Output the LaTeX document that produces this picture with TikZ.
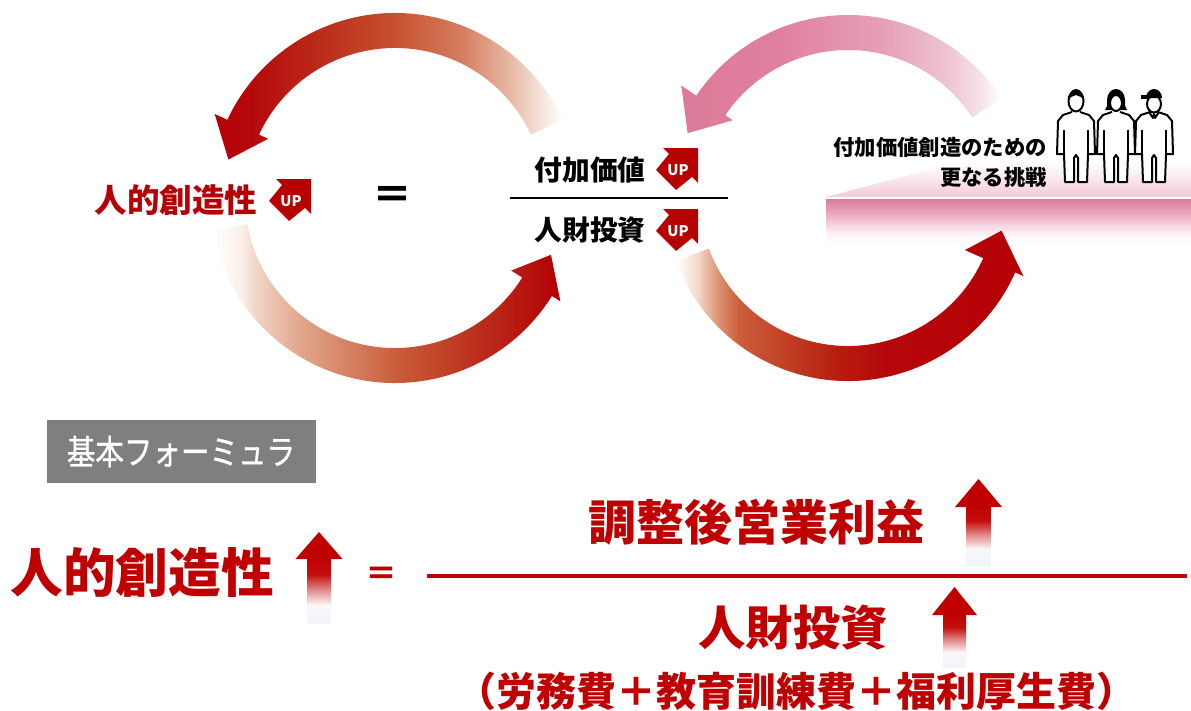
\documentclass[tikz,border=0pt]{standalone}
\usepackage{fontspec}
\newfontfamily\jp{Noto Sans CJK JP}
\newfontfamily\jpmed{Noto Sans CJK JP}[FakeBold=1]
\newcommand\jsize[1]{\fontsize{#1}{#1}\selectfont}

% palette
\definecolor{dred}{HTML}{B50005}
\definecolor{fred}{HTML}{C00000}
\definecolor{iconred}{HTML}{B70000}
\definecolor{boxgray}{HTML}{7F7F7F}
\definecolor{platTop}{HTML}{F3CBD7}
% left upper ring
\definecolor{lt0}{HTML}{B30008}\definecolor{lt1}{HTML}{B5090A}\definecolor{lt2}{HTML}{BC2A1A}
\definecolor{lt3}{HTML}{C64E2E}\definecolor{lt4}{HTML}{D47A5C}\definecolor{lt5}{HTML}{E7B9A5}
\definecolor{lt6}{HTML}{F6E4DC}
% left lower ring
\definecolor{lb1}{HTML}{FBF0EA}\definecolor{lb2}{HTML}{F0D2C2}\definecolor{lb3}{HTML}{E2A78C}
\definecolor{lb4}{HTML}{D58163}\definecolor{lb5}{HTML}{C95C39}\definecolor{lb6}{HTML}{BF3A22}
\definecolor{lb7}{HTML}{B71810}
% right upper ring (pink)
\definecolor{rt0}{HTML}{DD7A99}\definecolor{rt1}{HTML}{DF809E}\definecolor{rt2}{HTML}{E6A0B6}
\definecolor{rt3}{HTML}{EFC6D3}\definecolor{rt4}{HTML}{F7E4EA}
% right lower ring
\definecolor{rb1}{HTML}{F4DCCD}\definecolor{rb2}{HTML}{DC9474}\definecolor{rb3}{HTML}{CB5E3C}
\definecolor{rb4}{HTML}{C24428}\definecolor{rb5}{HTML}{B8200F}\definecolor{rb6}{HTML}{B5070A}
% platform front face
\definecolor{pf1}{HTML}{FBEEF2}\definecolor{pf2}{HTML}{F5D8E1}\definecolor{pf3}{HTML}{EAA9BD}
\definecolor{pf4}{HTML}{E088A3}\definecolor{pf5}{HTML}{DC7A98}
% upward arrow shafts
\definecolor{up0}{HTML}{F2F4FA}\definecolor{up1}{HTML}{F6F7FB}\definecolor{up2}{HTML}{FDF6F6}
\definecolor{up3}{HTML}{E08888}\definecolor{up4}{HTML}{C41010}

\pgfdeclarehorizontalshading{shLT}{100bp}{color(0bp)=(lt0); color(25bp)=(lt0); color(30bp)=(lt1); color(40bp)=(lt2); color(50bp)=(lt3); color(60bp)=(lt4); color(67.5bp)=(lt5); color(72bp)=(lt6); color(75bp)=(white); color(100bp)=(white)}
\pgfdeclarehorizontalshading{shLB}{100bp}{color(0bp)=(white); color(25bp)=(white); color(29bp)=(lb1); color(31.5bp)=(lb2); color(37.5bp)=(lb3); color(44.5bp)=(lb4); color(51.5bp)=(lb5); color(60bp)=(lb6); color(69bp)=(lb7); color(75bp)=(dred); color(100bp)=(dred)}
\pgfdeclarehorizontalshading{shRT}{100bp}{color(0bp)=(rt0); color(25bp)=(rt0); color(40bp)=(rt1); color(56.5bp)=(rt2); color(67bp)=(rt3); color(72bp)=(rt4); color(75bp)=(white); color(100bp)=(white)}
\pgfdeclarehorizontalshading{shRB}{100bp}{color(0bp)=(white); color(25bp)=(white); color(28bp)=(rb1); color(31bp)=(rb2); color(34bp)=(rb3); color(40bp)=(rb4); color(47.5bp)=(rb5); color(55bp)=(rb6); color(75bp)=(dred); color(100bp)=(dred)}
\pgfdeclareverticalshading{shFront}{100bp}{color(0bp)=(white); color(25bp)=(white); color(37bp)=(pf1); color(45bp)=(pf2); color(58bp)=(pf3); color(70bp)=(pf4); color(75bp)=(pf5); color(100bp)=(pf5)}
\pgfdeclareverticalshading{shUp}{100bp}{color(0bp)=(up0); color(25bp)=(up0); color(36bp)=(up1); color(39bp)=(up2); color(51bp)=(up3); color(62.5bp)=(up4); color(75bp)=(fred); color(100bp)=(fred)}

% ring segment with arrow head:
% #1 shading, #2 start angle, #3 end angle, #4 tip angle,
% #5 inner r, #6 outer r, #7 inner barb r, #8 outer barb r, #9 tip r
\newcommand\ringarrow[9]{%
  \shade[shading=#1] (#2:#6) arc[start angle=#2, end angle=#3, radius=#6]
    -- (#3:#8) -- (#4:#9) -- (#3:#7) -- (#3:#5)
    arc[start angle=#3, end angle=#2, radius=#5] -- cycle;}

% small "UP" badge, #2/#3 = upper right corner
\newcommand\upicon[3]{%
  \begin{scope}[shift={(#2,#3)}]
    \fill[iconred] (0,0) -- (-35,0) -- (-29,6) -- (-42,22) -- (-22,42) -- (-6,29) -- (0,35) -- cycle;
    \node[uptext] (#1) at (-20,22) {UP};
  \end{scope}}

% big upward arrow: tip x, tip y, head base y, head half width, shaft half width, bottom y
\newcommand\bigup[6]{%
  \shade[shading=shUp] (#1-#5,#3-0.5) rectangle (#1+#5,#6);
  \fill[fred] (#1,#2) -- (#1+#4,#3) -- (#1-#4,#3) -- cycle;}

% standing pictogram body
\newcommand\figbody{%
  \draw[figline, fill=white] (-4,112) -- (-13,115) -- (-18,121) -- (-19,154) -- (-12,154)
    -- (-11,182) -- (-2,182) -- (-2,158) -- (0,155) -- (2,158)
    -- (2,182) -- (11,182) -- (12,154) -- (19,154) -- (18,121)
    -- (13,115) -- (4,112);
  \draw[figline] (-12,154) -- (-12,130);
  \draw[figline] (12,154) -- (12,130);}

\tikzset{
  figline/.style={line width=1.5pt, black, line join=round},
  uptext/.style={inner sep=0pt, text=white, font={\jp\bfseries\jsize{11}}},
  toplabel/.style={inner sep=0pt, font={\jp\bfseries\jsize{20.8}}},
  bottomlabel/.style={inner sep=0pt, text=fred, font={\jp\bfseries\jsize{35.5}}},
}

\begin{document}
\begin{tikzpicture}[x=0.75pt, y=-0.75pt, line join=round]
\useasboundingbox (0,0) rectangle (1191,710);
\fill[white] (0,0) rectangle (1191,710);

% stage under the people
\shade[top color=white, bottom color=platTop] (826,197) -- (1191,197) -- (1191,163) -- (955,163) -- cycle;
\shade[shading=shFront] (826,199) rectangle (1191,243);

% the two loops
\begin{scope}[shift={(395,198)}]
  \ringarrow{shLT}{-25}{-155}{-167}{150}{185}{140}{199}{171}
  \ringarrow{shLB}{170}{32}{20}{150}{185}{137}{195}{166}
\end{scope}
\begin{scope}[shift={(848,198)}]
  \ringarrow{shRT}{-33}{-146}{-158}{148}{183}{139}{201}{173}
  \ringarrow{shRB}{160}{24}{12}{148}{183}{128}{192}{157}
\end{scope}

% upper formula
\node[inner sep=0pt, text=dred, font={\jp\bfseries\jsize{24.4}}] (hcTop) at (176,200) {人的創造性};
\upicon{upA}{311}{179}
\node[inner sep=0pt, font={\jp\bfseries\jsize{30}}] (eqTop) at (392,198) {＝};
\node[toplabel] (avTop) at (590,170) {付加価値};
\node[toplabel] (hiTop) at (590,230) {人財投資};
\coordinate (barL) at (510,198);
\coordinate (barR) at (728,198);
\draw[line width=1.5pt] (barL) -- (barR);
\upicon{upB}{698}{148}
\upicon{upC}{698}{209}

\node[inner sep=0pt, anchor=east, align=right, font={\jp\bfseries\fontsize{16}{22.5}\selectfont}] (chal) at (1047,162) {付加価値創造のための\\更なる挑戦};

% three people
\begin{scope}[shift={(1076,0)}]
  \figbody
  \draw[figline, fill=white] (0,101) ellipse[x radius=7.5, y radius=10.5];
  \fill (-7.5,100) arc[start angle=180, end angle=360, x radius=7.5, y radius=11] -- (5,97) -- (0,95) -- (-5,97) -- cycle;
\end{scope}
\begin{scope}[shift={(1116,0)}]
  \figbody
  \fill (-11,110) -- (-9,106) -- (-9,100) arc[start angle=180, end angle=360, x radius=9, y radius=11] -- (9,106) -- (11,110) -- cycle;
  \draw[figline, fill=white] (0,103) ellipse[x radius=6, y radius=8];
\end{scope}
\begin{scope}[shift={(1154,0)}]
  \figbody
  \draw[figline, fill=white] (0,104) ellipse[x radius=7, y radius=8.5];
  \fill (-8,98) arc[start angle=180, end angle=360, x radius=8, y radius=9] -- cycle;
  \fill (-13,95) rectangle (-4,98.5);
  \draw[figline] (-5,112) -- (-1,118) -- (0,114) -- (1,118) -- (5,112);
\end{scope}

% basic formula
\node[fill=boxgray, text=white, minimum width=201.75pt, minimum height=47.25pt, inner sep=0pt,
      font={\jpmed\jsize{21.4}}] (boxLbl) at (181,451.5) {\scalebox{1}[1.2]{基本フォーミュラ}};

\node[inner sep=0pt, text=fred, font={\jp\bfseries\jsize{39.5}}] (hcBot) at (142,572) {人的創造性};
\bigup{319}{532}{559}{23.5}{12}{623}
\node[inner sep=0pt, text=fred, font={\jp\bfseries\jsize{24}}] (eqBot) at (381,576) {＝};

\node[bottomlabel, font={\jp\bfseries\jsize{36}}] (opBot) at (756,522) {調整後営業利益};
\bigup{978.5}{479}{507}{23.5}{12}{565}
\coordinate (fracL) at (427,576);
\coordinate (fracR) at (1187,576);
\draw[fred, line width=2.4pt] (fracL) -- (fracR);
\node[bottomlabel] (hiBot) at (793,628) {人財投資};
\bigup{954.5}{587}{615}{22.5}{11.5}{667}
\node[inner sep=0pt, text=fred, font={\jp\bfseries\jsize{30}}] (costBot) at (796,691) {（労務費＋教育訓練費＋福利厚生費）};
\end{tikzpicture}
\end{document}
